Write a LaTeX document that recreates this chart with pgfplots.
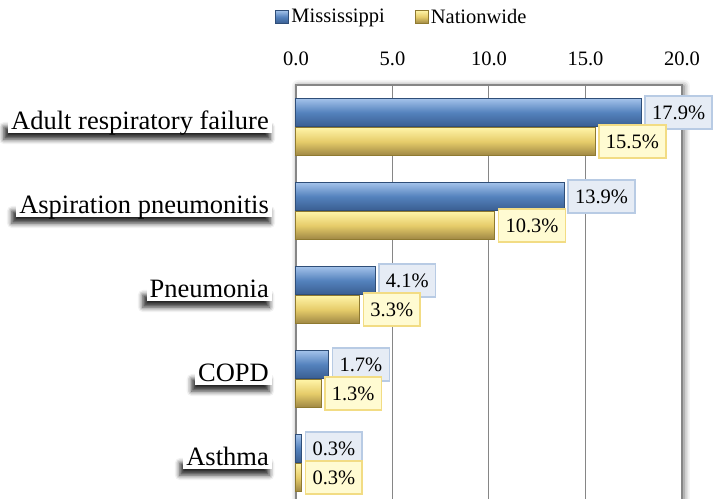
\documentclass[border=0pt]{standalone}
\usepackage{fontspec}
\setmainfont{Liberation Serif}
\usepackage{pgfplots}
\pgfplotsset{compat=1.18}
\usetikzlibrary{shadows.blur}

\definecolor{gridgray}{HTML}{868686}
\definecolor{bluetop}{HTML}{A3C2EA}
\definecolor{bluemid}{HTML}{5482BD}
\definecolor{bluebot}{HTML}{3A5E91}
\definecolor{blueedge}{HTML}{2F4E78}
\definecolor{goldtop}{HTML}{FFF4A8}
\definecolor{goldmid}{HTML}{E6CC6A}
\definecolor{goldbot}{HTML}{9E8744}
\definecolor{goldedge}{HTML}{8F7A30}
\definecolor{lblblue}{HTML}{E6ECF5}
\definecolor{lblblueedge}{HTML}{B8CBE4}
\definecolor{lblgold}{HTML}{FFFBD2}
\definecolor{lblgoldedge}{HTML}{F2DC84}

\newcommand{\lblfont}{\fontsize{20.5bp}{24bp}\selectfont}
\newcommand{\catfont}{\fontsize{26.5bp}{30bp}\selectfont}

% every bar is its own \addplot so that each one gets its own shading
\pgfplotsset{
  sqlegend/.style={legend image code/.code={\draw[##1] (0bp,-6.5bp) rectangle (13bp,6.5bp);}},
  msbar/.style={xbar, bar shift=14.5bp, draw=blueedge, line width=1bp,
    top color=bluetop, bottom color=bluebot, middle color=bluemid,
    every node near coord/.append style={fill=lblblue, draw=lblblueedge}, sqlegend},
  nwbar/.style={xbar, bar shift=-14.5bp, draw=goldedge, line width=1bp,
    top color=goldtop, bottom color=goldbot, middle color=goldmid,
    every node near coord/.append style={fill=lblgold, draw=lblgoldedge}, sqlegend},
}

\begin{document}
\begin{tikzpicture}
\begin{axis}[
  at={(0,0)}, anchor=south west,
  scale only axis, width=386bp, height=420bp,
  xbar, bar width=28bp,
  xmin=0, xmax=20, ymin=-0.5, ymax=4.5,
  xtick={0,5,10,15,20}, xticklabel pos=upper,
  ytick={0,1,2,3,4},
  yticklabels={Asthma,COPD,Pneumonia,Aspiration pneumonitis,Adult respiratory failure},
  xmajorgrids, grid style={draw=gridgray, line width=1bp},
  axis line style={draw=gridgray, line width=1.5bp},
  major tick length=0pt,
  tick label style={font=\lblfont, text=black},
  xticklabel style={/pgf/number format/fixed, /pgf/number format/fixed zerofill,
    /pgf/number format/precision=1, /pgf/number format/assume math mode=true},
  xticklabel shift=16bp,
  yticklabel style={font=\catfont, fill=white, inner xsep=3bp, inner ysep=1.5bp,
    text height=0.7em, text depth=0.2em,
    blur shadow={shadow xshift=-3bp, shadow yshift=-6bp, shadow blur radius=5bp,
      shadow opacity=85, shadow scale=1.01}},
  yticklabel shift=24bp,
  axis background/.style={fill=white,
    blur shadow={shadow xshift=2bp, shadow yshift=-1bp, shadow blur radius=6bp, shadow opacity=60}},
  legend style={at={(0.2746,1.162)}, anchor=center, legend columns=2,
    draw=none, fill=none, font=\lblfont,
    /tikz/every even column/.append style={column sep=28bp}},
  nodes near coords={\pgfmathprintnumber[fixed,fixed zerofill,precision=1,assume math mode=true]{\pgfplotspointmeta}\%},
  every node near coord/.append style={anchor=west, font=\lblfont, text=black,
    inner xsep=7bp, minimum height=33bp, line width=1.5bp, xshift=3bp},
  clip=false,
]
% Mississippi
\addplot[msbar] coordinates {(17.9,4)};
\addlegendentry{Mississippi}
% Nationwide
\addplot[nwbar] coordinates {(15.5,4)};
\addlegendentry{Nationwide}
\addplot[msbar, forget plot] coordinates {(13.9,3)};
\addplot[msbar, forget plot] coordinates {(4.1,2)};
\addplot[msbar, forget plot] coordinates {(1.7,1)};
\addplot[msbar, forget plot] coordinates {(0.3,0)};
\addplot[nwbar, forget plot] coordinates {(10.3,3)};
\addplot[nwbar, forget plot] coordinates {(3.3,2)};
\addplot[nwbar, forget plot] coordinates {(1.3,1)};
\addplot[nwbar, forget plot] coordinates {(0.3,0)};
\end{axis}
\pgfresetboundingbox
\useasboundingbox (-296bp,6bp) rectangle (417bp,505bp);
\end{tikzpicture}
\end{document}
